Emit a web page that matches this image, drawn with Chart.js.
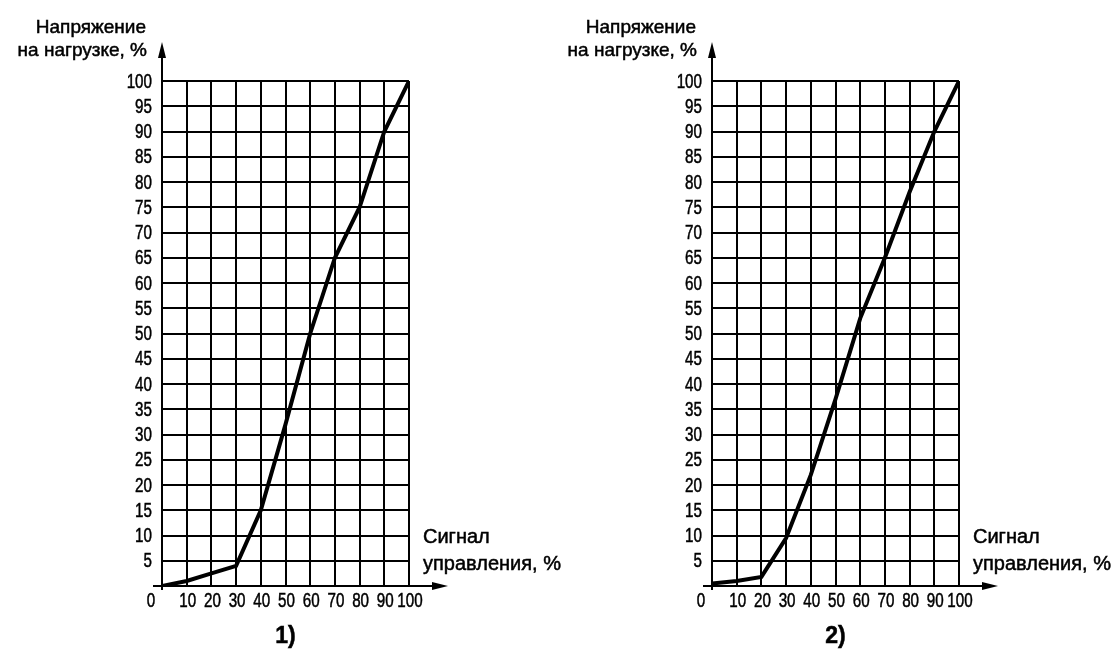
<!DOCTYPE html>
<html>
<head>
<meta charset="utf-8">
<script src="https://cdn.jsdelivr.net/npm/chart.js@4"></script>
<style>
    html, body { margin: 0; padding: 0; background: #fff; }
    .wrap { position: relative; width: 1115px; height: 650px; }
    canvas { position: absolute; top: 0; }
</style>
</head>
<body>
<div class="wrap">
    <canvas id="chart1" width="600" height="650" style="left:0"></canvas>
    <canvas id="chart2" width="558" height="650" style="left:557px"></canvas>
</div>
<script>
"use strict";

/* data */
var signal = [0, 10, 20, 30, 40, 50, 60, 70, 80, 90, 100];
var load1 = [0, 1, 2.5, 4, 15, 32, 50, 65, 75, 90, 100];
var load2 = [0.5, 1, 1.8, 9.5, 22, 37, 53, 65, 78, 90, 100];

var xTicks = [0, 10, 20, 30, 40, 50, 60, 70, 80, 90, 100];
var xTickLabels = ['0', '10', '20', '30', '40', '50', '60', '70', '80', '90', '100'];
var yTicks = [5, 10, 15, 20, 25, 30, 35, 40, 45, 50, 55, 60, 65, 70, 75, 80, 85, 90, 95, 100];
var yTickLabels = ['5', '10', '15', '20', '25', '30', '35', '40', '45', '50',
    '55', '60', '65', '70', '75', '80', '85', '90', '95', '100'];

var yTitle = ['Напряжение', 'на нагрузке, %'];
var xTitle = ['Сигнал', 'управления, %'];
var captions = ['1)', '2)'];

var textFont = '"Liberation Sans", Arial, sans-serif';

// text with a hairline stroke to look a bit heavier, optionally squeezed
function drawText(ctx, text, x, y, align, k) {
    ctx.save();
    ctx.translate(x, y);
    ctx.scale(k || 1, 1);
    ctx.textAlign = align;
    ctx.lineWidth = 0.5;
    ctx.fillText(text, 0, 0);
    ctx.strokeText(text, 0, 0);
    ctx.restore();
}

/* tick labels, axis arrows, titles and caption */
var decorations = {
    id: 'decorations',
    afterDraw: function (chart, args, opts) {
        var ctx = chart.ctx;
        var a = chart.chartArea;
        var xs = chart.scales.x;
        var ys = chart.scales.y;
        ctx.save();
        ctx.strokeStyle = '#000';
        ctx.fillStyle = '#000';
        ctx.lineWidth = 2;

        // y axis with arrow
        ctx.beginPath();
        ctx.moveTo(a.left, a.bottom + 4);
        ctx.lineTo(a.left, 50);
        ctx.stroke();
        ctx.beginPath();
        ctx.moveTo(a.left, 42);
        ctx.lineTo(a.left - 4, 58);
        ctx.lineTo(a.left + 4, 58);
        ctx.closePath();
        ctx.fill();

        // x axis with arrow
        ctx.beginPath();
        ctx.moveTo(a.left - 9, a.bottom);
        ctx.lineTo(a.right + 30, a.bottom);
        ctx.stroke();
        ctx.beginPath();
        ctx.moveTo(a.right + 39, a.bottom);
        ctx.lineTo(a.right + 23, a.bottom - 4);
        ctx.lineTo(a.right + 23, a.bottom + 4);
        ctx.closePath();
        ctx.fill();

        // tick labels
        ctx.font = '20px ' + textFont;
        ctx.textBaseline = 'middle';
        yTicks.forEach(function (v, i) {
            drawText(ctx, yTickLabels[i], a.left - 10, ys.getPixelForValue(v) + 1, 'right', 0.76);
        });
        ctx.textBaseline = 'top';
        xTicks.forEach(function (v, i) {
            var px = xs.getPixelForValue(v) + 1;
            if (v === 0) px = a.left - 11;
            drawText(ctx, xTickLabels[i], px, a.bottom + 5, 'center', 0.76);
        });

        // y title
        ctx.font = '19px ' + textFont;
        ctx.textBaseline = 'alphabetic';
        drawText(ctx, yTitle[0], a.left - 16, 33, 'right');
        drawText(ctx, yTitle[1], a.left - 15, 56, 'right');

        // x title
        ctx.font = '20px ' + textFont;
        drawText(ctx, xTitle[0], a.right + 14, 543, 'left');
        drawText(ctx, xTitle[1], a.right + 14, 570, 'left');

        // caption
        ctx.font = 'bold 23px ' + textFont;
        drawText(ctx, opts.caption, (a.left + a.right) / 2, 643, 'center');
        ctx.restore();
    }
};

function makeConfig(values, caption, padLeft, padRight) {
    return {
        type: 'line',
        data: {
            datasets: [{
                data: signal.map(function (s, i) { return { x: s, y: values[i] }; }),
                borderColor: '#000',
                borderWidth: 4,
                pointRadius: 0,
                fill: false,
                tension: 0
            }]
        },
        options: {
            responsive: false,
            animation: false,
            layout: {
                padding: { left: padLeft, right: padRight, top: 81, bottom: 34 }
            },
            plugins: {
                legend: { display: false },
                tooltip: { enabled: false },
                decorations: { caption: caption }
            },
            scales: {
                x: {
                    type: 'linear',
                    min: 0,
                    max: 100,
                    afterFit: function (scale) { scale.height = 30; },
                    grid: { color: '#000', lineWidth: 2, drawTicks: false },
                    border: { display: false },
                    ticks: { stepSize: 10, display: false }
                },
                y: {
                    min: 0,
                    max: 100,
                    afterFit: function (scale) { scale.width = 50; },
                    grid: { color: '#000', lineWidth: 2, drawTicks: false },
                    border: { display: false },
                    ticks: { stepSize: 5, display: false }
                }
            }
        },
        plugins: [decorations]
    };
}

new Chart(document.getElementById('chart1').getContext('2d'), makeConfig(load1, captions[0], 112, 191));
new Chart(document.getElementById('chart2').getContext('2d'), makeConfig(load2, captions[1], 105, 156));
</script>
</body>
</html>
